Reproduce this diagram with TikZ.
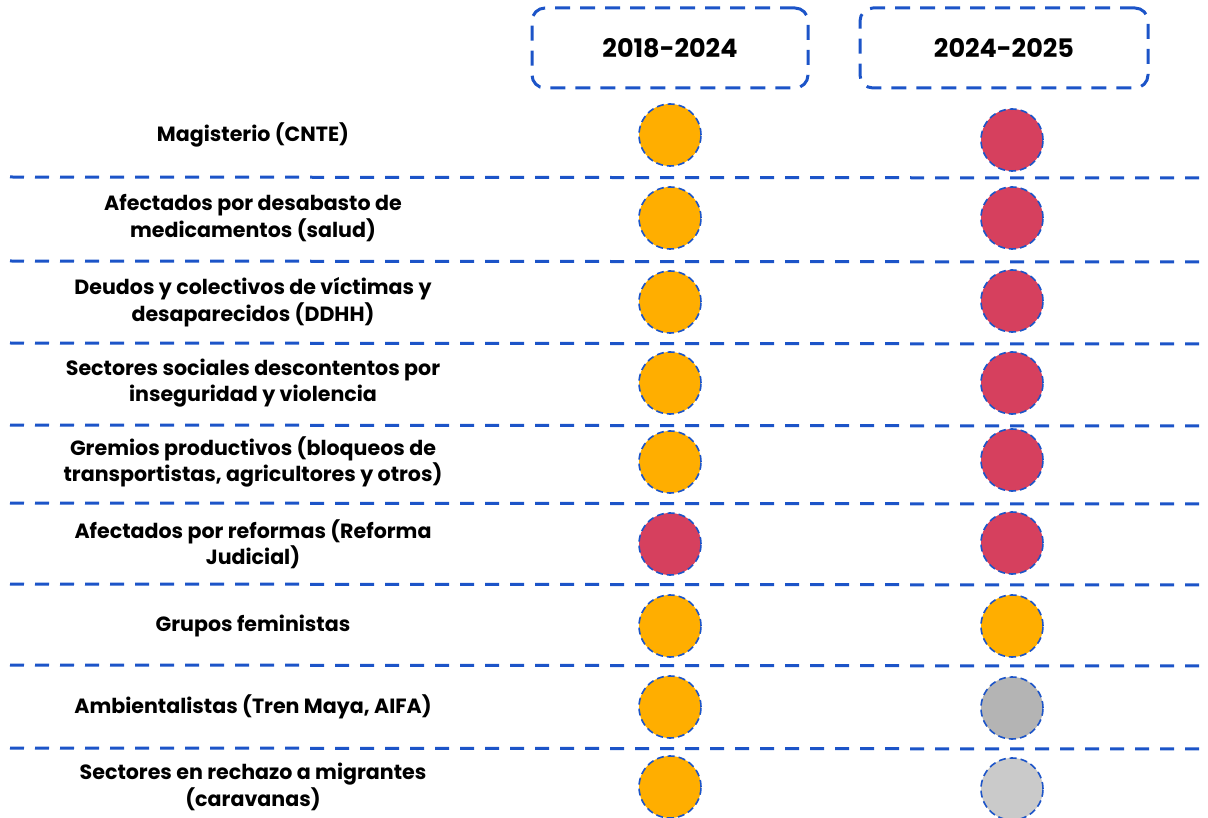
\documentclass[tikz,border=0pt]{standalone}
\usepackage{fontspec}
\setmainfont{Poppins}
\definecolor{lineblue}{RGB}{28,84,200}
\definecolor{orangedot}{RGB}{255,174,0}
\definecolor{reddot}{RGB}{214,64,94}
\definecolor{greydot}{RGB}{180,180,180}
\definecolor{lightdot}{RGB}{202,202,202}
\tikzset{
  dot/.style={circle,fill=#1,draw=lineblue,line width=1.6pt,dash pattern=on 7pt off 4pt,
    minimum size=62pt,inner sep=0pt},
  sepline/.style={lineblue,line width=3pt,dash pattern=on 14pt off 11pt},
  hdr/.style={draw=lineblue,line width=3pt,rounded corners=13pt,dash pattern=on 15pt off 10pt,
    minimum height=80pt,font=\bfseries\fontsize{25.5}{30}\selectfont},
  lbl/.style={align=center,font=\bfseries\fontsize{20.6}{26.5}\selectfont}
}

\begin{document}
\begin{tikzpicture}[x=1pt,y=-1pt]
\useasboundingbox (0,0) rectangle (1208,818);
% column heads
\node[hdr,minimum width=276pt] (head1) at (670,48) {2018-2024};
\node[hdr,minimum width=288pt] (head2) at (1004,48) {2024-2025};
% rows: label y / text / old / new / new y
\foreach \y/\txt/\ca/\cb/\yb [count=\i] in {
  135/{Magisterio (CNTE)}/orangedot/reddot/140,
  218/{Afectados por desabasto de\\medicamentos (salud)}/orangedot/reddot/218,
  302/{Deudos y colectivos de víctimas y\\desaparecidos (DDHH)}/orangedot/reddot/301,
  383/{Sectores sociales descontentos por\\inseguridad y violencia}/orangedot/reddot/383,
  462/{Gremios productivos (bloqueos de\\transportistas, agricultores y otros)}/orangedot/reddot/460,
  544/{Afectados por reformas (Reforma\\Judicial)}/reddot/reddot/543,
  626/{Grupos feministas}/orangedot/orangedot/626,
  707/{Ambientalistas (Tren Maya, AIFA)}/orangedot/greydot/708,
  787/{Sectores en rechazo a migrantes\\(caravanas)}/orangedot/lightdot/789}
{
  \node[lbl] (lbl\i) at (253,\y) {\txt};
  \node[dot=\ca] (old\i) at (670,\y) {};
  \node[dot=\cb] (new\i) at (1012,\yb) {};
}
% separators
\foreach \y [count=\i] in {177,261,343,425,503,584,665,748}
{
  \coordinate (sepL\i) at (10,\y);
  \coordinate (sepR\i) at (1208,\y+1);
  \draw[sepline] (sepL\i) -- (sepR\i);
}
\end{tikzpicture}
\end{document}
